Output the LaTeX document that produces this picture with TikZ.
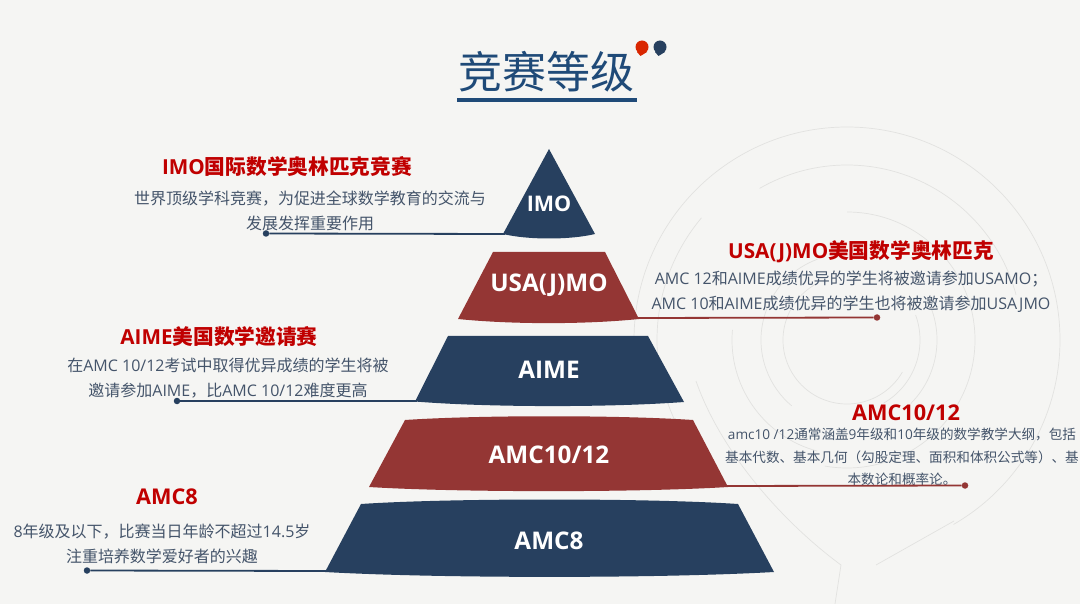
\documentclass[tikz,border=0pt]{standalone}
\usepackage{fontspec}
\setmainfont{Open Sans}
\newfontfamily\cjkfont{Noto Sans CJK SC}
% han text and its punctuation go to the cjk family by themselves
\newcount\cjkcode
\cjkcode="3000
\loop \XeTeXcharclass\cjkcode=1 \advance\cjkcode by 1 \ifnum\cjkcode<"A000 \repeat
\cjkcode="FF00
\loop \XeTeXcharclass\cjkcode=1 \advance\cjkcode by 1 \ifnum\cjkcode<"FFF0 \repeat
\XeTeXinterchartokenstate=1
\XeTeXinterchartoks 0 1 = {\cjkfont}
\XeTeXinterchartoks 4095 1 = {\cjkfont}
\XeTeXinterchartoks 1 0 = {\normalfont}
\usepackage{tikz}
\usetikzlibrary{calc}
\definecolor{navy}{HTML}{27405F}
\definecolor{titleblue}{HTML}{1F4A78}
\definecolor{brick}{HTML}{943634}
\definecolor{headred}{HTML}{C00000}
\definecolor{bodygray}{HTML}{44546A}
\definecolor{paper}{HTML}{F5F5F3}
\definecolor{ring}{HTML}{E2E2E0}
\tikzstyle{head} = [text=headred, font=\fontsize{20.7}{24}\selectfont\bfseries, inner sep=0pt]
\tikzstyle{headlatin} = [head, font=\fontsize{21.7}{24}\selectfont\bfseries]
\tikzstyle{body} = [text=bodygray, align=center, font=\fontsize{16}{25}\selectfont, inner sep=0pt]
\tikzstyle{small} = [text=bodygray, align=center, font=\fontsize{13.6}{22.5}\selectfont, inner sep=0pt]
\tikzstyle{tier} = [text=white, font=\fontsize{24.3}{26}\selectfont\bfseries, inner sep=0pt]
\tikzstyle{dot} = [circle, minimum size=6.5pt, inner sep=0pt]
\tikzstyle{line} = [draw, line width=1.8pt]
\begin{document}
\begin{tikzpicture}[x=1pt, y=-1pt]
        % page and the faint rings behind everything
        \fill[paper] (0,0) rectangle (1080,604);
        \useasboundingbox (0,0) rectangle (1080,604);
        \foreach \r/\a/\b in {64/120/330, 86/110/230, 73/20/-60, 115/175/255, 128/90/-100, 90/20/-45, 190/140/215, 175/120/15, 213/180/-60} {
            \draw[ring, line width=0.7pt] ($(847,340)+(\a:\r pt)$) arc[start angle=\a, end angle=\b, radius=\r pt];
        }
        \draw[ring, line width=0.7pt] (954,521) -- (876,565);
        \draw[ring, line width=0.7pt] (696,381) .. controls (720,450) and (780,520) .. (841,565) -- (835,604);

        % title
        \node[text=titleblue, font=\fontsize{44}{50}\selectfont, inner sep=0pt] (title) at (546,72) {竞赛等级};
        \coordinate (ruleL) at (457,100);
        \coordinate (ruleR) at (637,100);
        \draw[titleblue, line width=3.2pt] (ruleL) -- (ruleR);
        \fill[red!65!orange!85!black] (642,47) circle (6.5) (637,52) -- (647,52) -- (640.5,56) -- cycle;
        \fill[navy] (660,47) circle (6.5) (655,52) -- (665,52) -- (658.5,56) -- cycle;

        % pyramid
        \fill[navy] (549,149) -- (595,234) .. controls (570,240) and (528,240) .. (503,234) -- cycle;
        \fill[brick] (493,252) -- (605,252) -- (639,319) .. controls (585,324.5) and (512,324.5) .. (458,319) -- cycle;
        \fill[navy] (448,336) -- (648,336) -- (684,402) .. controls (610,407.5) and (489,407.5) .. (415,401.5) -- cycle;
        \fill[brick] (405,420) .. controls (480,415) and (618,415) .. (693,420) -- (728,487) .. controls (640,492.5) and (457,492.5) .. (369,487) -- cycle;
        \fill[navy] (361,504) .. controls (450,498) and (649,498) .. (738,504) -- (774,572) .. controls (660,578.5) and (439,578.5) .. (325,572) -- cycle;
        \node[tier, font=\fontsize{21.5}{24}\selectfont\bfseries] (imo) at (549,204) {IMO};
        \node[tier] (usa) at (549,285) {USA(J)MO};
        \node[tier] (aime) at (549,370) {AIME};
        \node[tier] (amcten) at (549,455) {AMC10/12};
        \node[tier] (amceight) at (549,541) {AMC8};

        % left and right texts
        \node[head] (imohead) at (287,167) {IMO国际数学奥林匹克竞赛};
        \node[body] (imobody) at (310,210.5) {世界顶级学科竞赛，为促进全球数学教育的交流与\\发展发挥重要作用};
        \node[head] (usahead) at (861,252) {USA(J)MO美国数学奥林匹克};
        \node[body] (usabody) at (851,291.5) {AMC 12和AIME成绩优异的学生将被邀请参加USAMO；\\AMC 10和AIME成绩优异的学生也将被邀请参加USAJMO};
        \node[head] (aimehead) at (219,337) {AIME美国数学邀请赛};
        \node[body] (aimebody) at (228,378.5) {在AMC 10/12考试中取得优异成绩的学生将被\\邀请参加AIME，比AMC 10/12难度更高};
        \node[headlatin] (amctenhead) at (906,413) {AMC10/12};
        \node[small] (amctenbody) at (902,457) {amc10 /12通常涵盖9年级和10年级的数学教学大纲，包括\\基本代数、基本几何（勾股定理、面积和体积公式等）、基\\本数论和概率论。};
        \node[headlatin] (amceighthead) at (167,497) {AMC8};
        \node[body] (amceightbody) at (162,543.5) {8年级及以下，比赛当日年龄不超过14.5岁\\注重培养数学爱好者的兴趣};

        % leader lines
        \coordinate (imocorner) at (505,234);
        \coordinate (usacorner) at (637,318);
        \coordinate (aimecorner) at (417,401);
        \coordinate (amctencorner) at (726,486);
        \coordinate (amceightcorner) at (327,571);
        \node[dot, fill=navy] (imodot) at (266,233.5) {};
        \node[dot, fill=brick] (usadot) at (877,317.5) {};
        \node[dot, fill=navy] (aimedot) at (177,401) {};
        \node[dot, fill=brick] (amctendot) at (965,485.5) {};
        \node[dot, fill=navy] (amceightdot) at (87,570.5) {};
        \path[line, navy] (imodot) -- (imocorner);
        \path[line, brick] (usacorner) -- (usadot);
        \path[line, navy] (aimedot) -- (aimecorner);
        \path[line, brick] (amctencorner) -- (amctendot);
        \path[line, navy] (amceightdot) -- (amceightcorner);
    \end{tikzpicture}
\end{document}
